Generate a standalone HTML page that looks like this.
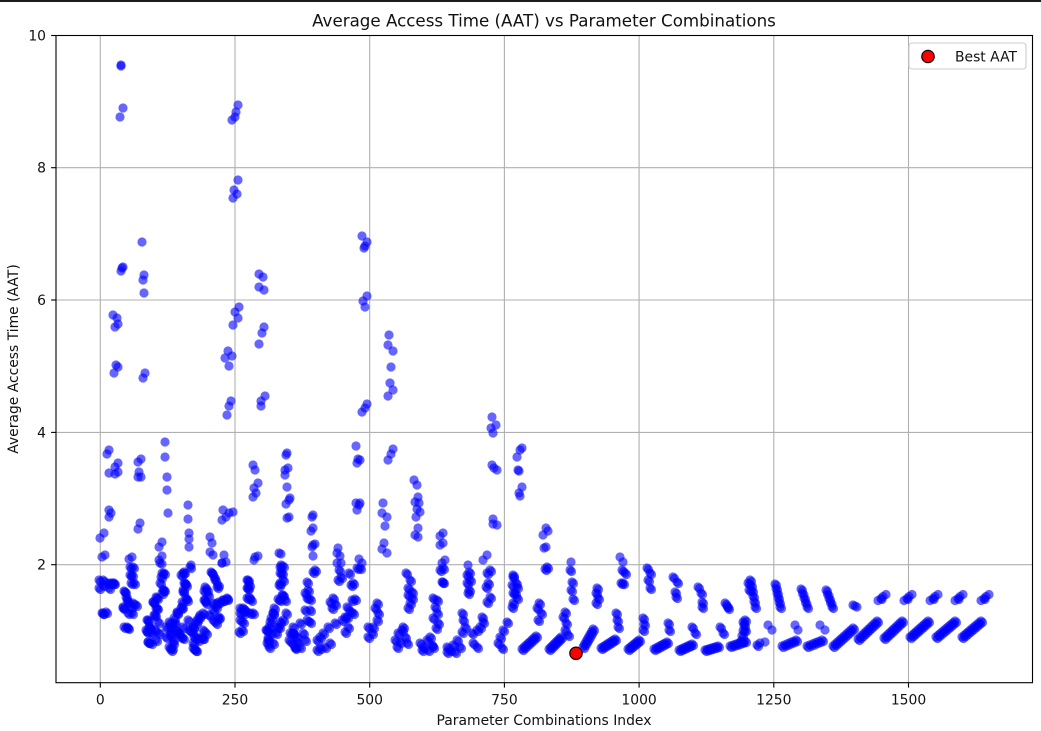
<!DOCTYPE html>
<html><head><meta charset="utf-8"><style>
html,body{margin:0;padding:0;background:#fff;}
svg{display:block;font-family:"DejaVu Sans","Liberation Sans",sans-serif;}
</style></head><body>
<svg id="c" width="1041" height="731" viewBox="0 0 1041 731" xmlns="http://www.w3.org/2000/svg">
<rect x="0" y="0" width="1041" height="731" fill="#fff"/>
<rect x="0" y="0" width="1041" height="2" fill="#1c1c1c"/>
<g stroke="#b0b0b0" stroke-width="1.1">
<line x1="100.3" y1="35.5" x2="100.3" y2="682.7"/>
<line x1="235" y1="35.5" x2="235" y2="682.7"/>
<line x1="369.7" y1="35.5" x2="369.7" y2="682.7"/>
<line x1="504.4" y1="35.5" x2="504.4" y2="682.7"/>
<line x1="639.1" y1="35.5" x2="639.1" y2="682.7"/>
<line x1="773.8" y1="35.5" x2="773.8" y2="682.7"/>
<line x1="908.5" y1="35.5" x2="908.5" y2="682.7"/>
<line x1="56" y1="564.7" x2="1032.5" y2="564.7"/>
<line x1="56" y1="432.4" x2="1032.5" y2="432.4"/>
<line x1="56" y1="300" x2="1032.5" y2="300"/>
<line x1="56" y1="167.7" x2="1032.5" y2="167.7"/>
</g>
<g id="pts" fill="#0000ff" fill-opacity="0.6"></g>
<circle cx="576" cy="653.3" r="6.2" fill="#ff0000" stroke="#000" stroke-width="1.2"/>
<rect x="56" y="35.5" width="976.5" height="647.2" fill="none" stroke="#000" stroke-width="1.1"/>
<g stroke="#000" stroke-width="1.1">
<line x1="100.3" y1="682.7" x2="100.3" y2="687.6"/>
<line x1="235" y1="682.7" x2="235" y2="687.6"/>
<line x1="369.7" y1="682.7" x2="369.7" y2="687.6"/>
<line x1="504.4" y1="682.7" x2="504.4" y2="687.6"/>
<line x1="639.1" y1="682.7" x2="639.1" y2="687.6"/>
<line x1="773.8" y1="682.7" x2="773.8" y2="687.6"/>
<line x1="908.5" y1="682.7" x2="908.5" y2="687.6"/>
<line x1="51.1" y1="564.7" x2="56" y2="564.7"/>
<line x1="51.1" y1="432.4" x2="56" y2="432.4"/>
<line x1="51.1" y1="300" x2="56" y2="300"/>
<line x1="51.1" y1="167.7" x2="56" y2="167.7"/>
<line x1="51.1" y1="35.5" x2="56" y2="35.5"/>
</g>
<g font-size="13.9" fill="#111" text-anchor="middle">
<text x="100.3" y="704.5">0</text>
<text x="235" y="704.5">250</text>
<text x="369.7" y="704.5">500</text>
<text x="504.4" y="704.5">750</text>
<text x="639.1" y="704.5">1000</text>
<text x="773.8" y="704.5">1250</text>
<text x="908.5" y="704.5">1500</text>
</g>
<g font-size="13.9" fill="#111" text-anchor="end">
<text x="46" y="569.7">2</text>
<text x="46" y="437.4">4</text>
<text x="46" y="305">6</text>
<text x="46" y="172.7">8</text>
<text x="46" y="40.5">10</text>
</g>
<text x="544" y="725" font-size="13.9" fill="#111" text-anchor="middle">Parameter Combinations Index</text>
<text transform="translate(18,359) rotate(-90)" font-size="13.9" fill="#111" text-anchor="middle">Average Access Time (AAT)</text>
<text x="544" y="26.5" font-size="16.7" fill="#111" text-anchor="middle">Average Access Time (AAT) vs Parameter Combinations</text>
<rect x="909" y="43" width="117" height="26" rx="3" ry="3" fill="#fff" fill-opacity="0.8" stroke="#cccccc" stroke-width="1.1"/>
<circle cx="928" cy="56.5" r="6.2" fill="#ff0000" stroke="#000" stroke-width="1.2"/>
<text x="955" y="61.5" font-size="13.9" fill="#111">Best AAT</text>
</svg>
<script>
(function(){
var P=[
121,65,121,66,123,108,120,117,
238,105,236,112,235,117,232,120,
238,180,234,190,237,194,233,198,
142,242,123,267,121,271,122,268,
144,275,143,280,144,293,
113,315,117,318,118,324,115,327,
116,365,118,367,114,373,145,373,143,378,
259,274,263,277,259,287,264,290,
239,307,235,312,238,318,233,325,
264,327,262,333,259,344,
228,351,232,356,225,358,229,366,
231,401,229,406,227,415,
265,396,261,401,261,406,
362,236,367,242,364,248,365,246,
367,296,363,301,365,307,
389,335,388,345,393,351,391,367,390,383,393,390,388,396,
367,404,365,408,362,412,
492,417,496,425,491,428,493,433,
522,448,520,450,517,457,518,470,519,471,522,487,519,493,520,496,
109,450,107,454,118,463,115,467,109,473,115,474,118,472,
138,462,141,459,139,472,138,477,141,477,
165,442,165,457,167,477,167,490,168,513,
109,510,111,513,109,517,140,523,138,529,
188,505,188,519,189,533,189,539,189,547,
223,510,229,513,222,520,233,512,226,517,
253,465,255,470,253,497,256,493,258,483,254,488,
286,455,288,468,285,475,287,487,289,500,286,504,289,517,287,518,287,453,285,470,290,498,
104,533,100,538,105,555,102,557,
132,557,129,559,133,567,130,575,134,583,131,583,130,567,132,575,
162,542,159,547,162,556,159,560,162,564,164,573,161,577,160,583,164,590,162,593,160,563,162,573,163,590,
191,565,184,572,181,575,184,583,186,585,183,590,186,598,182,602,181,608,177,612,174,618,172,623,183,573,185,583,183,592,187,600,182,607,177,613,175,623,170,627,170,635,173,643,172,648,178,633,183,638,190,567,
210,537,212,543,210,552,213,555,224,555,222,563,226,562,
211,572,214,577,218,585,205,587,204,591,208,595,204,600,206,603,213,603,219,602,223,600,227,599,216,607,212,573,215,580,217,587,207,590,205,600,217,603,223,600,227,598,213,610,218,618,200,615,197,620,193,627,192,632,197,637,202,638,193,643,195,650,188,620,222,563,
255,557,258,556,254,560,
279,553,281,554,281,565,283,566,280,573,283,580,279,585,283,595,278,599,285,600,274,608,273,613,271,618,280,567,282,573,280,583,282,595,280,600,273,613,270,622,267,630,268,638,267,643,277,627,280,622,
248,580,249,585,247,588,249,597,251,600,243,608,240,613,244,613,253,613,243,622,239,632,247,580,248,588,247,598,240,608,245,610,250,613,240,620,242,630,
99,580,103,585,108,583,111,583,114,583,99,588,109,588,103,580,113,583,
103,613,106,612,102,613,
124,591,126,597,128,602,123,608,131,607,136,605,128,613,124,627,128,628,125,592,127,600,123,607,133,603,132,613,127,627,
156,597,153,602,156,608,154,615,147,620,149,627,146,630,151,633,148,642,151,643,156,640,159,633,158,622,157,598,153,602,157,608,155,615,148,620,150,627,147,632,155,630,148,642,
169,622,166,627,171,632,166,637,173,640,169,647,171,650,176,630,179,633,183,627,181,637,
193,627,196,622,189,630,199,617,203,613,209,615,213,620,219,617,216,623,194,637,198,640,193,648,196,650,203,638,206,633,203,630,
269,627,266,630,271,633,268,640,273,643,269,647,276,633,279,627,283,620,289,640,293,633,286,613,293,633,297,642,295,647,
356,446,360,460,357,463,358,459,
393,449,391,454,388,460,
492,465,497,470,494,468,
414,480,417,485,418,497,415,502,419,503,417,509,420,512,416,517,418,528,415,535,418,537,
356,503,359,505,357,510,360,503,
383,503,382,513,387,517,385,526,
384,543,382,549,387,553,
493,519,497,525,493,524,
312,517,313,515,313,528,311,531,313,545,312,547,315,544,313,556,313,572,315,570,
440,536,443,533,440,545,443,543,445,560,442,563,443,568,440,570,443,582,442,582,
338,548,337,553,340,556,337,563,341,563,339,570,341,577,338,580,
359,559,362,563,357,568,360,568,
349,573,353,583,351,585,
487,555,483,560,490,570,487,573,488,583,486,587,490,597,487,602,
468,565,469,572,467,575,470,580,467,583,469,590,468,593,
406,573,410,580,408,588,412,592,408,595,412,598,410,603,408,608,
513,575,512,585,517,587,513,593,517,598,512,607,
307,582,305,593,308,590,307,598,310,599,305,610,310,610,307,620,310,622,
333,598,330,602,335,604,332,608,352,600,355,599,347,607,350,611,353,613,345,617,348,627,345,632,
377,603,375,608,378,613,377,620,373,627,368,627,372,633,368,637,
433,598,437,600,435,607,437,613,433,618,438,623,436,628,
462,613,463,620,465,627,462,632,472,633,477,630,482,617,483,622,480,627,473,643,477,647,
507,622,503,630,500,637,498,643,502,648,
293,627,300,623,290,633,297,637,303,633,292,643,295,648,300,647,305,640,
323,633,320,637,317,640,320,648,325,647,330,643,328,627,335,623,342,620,347,617,317,650,
395,640,398,633,402,630,403,627,397,647,405,637,407,643,400,642,
420,643,423,647,422,650,427,640,430,637,432,645,428,650,433,647,
447,647,450,650,453,645,457,640,460,647,455,652,447,652,
546,528,543,535,546,547,544,548,547,567,545,569,548,531,
571,562,570,570,572,582,571,590,573,599,
620,557,623,562,622,570,625,573,623,583,621,583,
647,568,650,573,648,580,650,588,
673,577,677,582,675,592,676,597,
698,587,701,593,702,602,702,607,
725,603,728,608,727,606,
597,588,596,593,598,598,596,603,
513,577,515,593,513,603,516,583,
539,603,537,608,541,613,538,620,
565,612,563,617,566,623,565,630,568,635,
616,613,617,620,618,627,
643,618,643,630,644,624,
668,623,669,630,692,627,695,633,720,627,723,633,
743,622,745,630,748,583,749,590,
760,643,765,642,757,645,768,625,772,630,
795,625,798,630,820,625,825,630,
853,605,857,607,855,606
];
var S=[
[522,649,536,636,8],[549,649,561,637,8],[583,647,593,629,8],[601,648,615,639,8],
[628,649,639,640,7],[654,649,667,642,7],[679,650,692,644,7],[705,650,718,646,7],[730,646,745,641,7],
[745,620,741,641,5],
[782,646,796,640,6],[807,646,822,640,6],[833,646,853,628,10],[858,639,877,621,10],
[884,638,902,621,10],[910,637,928,621,10],[936,637,955,621,10],[962,637,981,621,10],
[750,580,755,607,6],[775,584,780,607,6],[801,589,807,607,5],[826,590,832,607,5]
];
var B=[[882,597.5],[908,597.5],[934,597.5],[959,597.5],[985,597.5]];
var g=document.getElementById('pts'),ns='http://www.w3.org/2000/svg';
function c(x,y){var e=document.createElementNS(ns,'circle');e.setAttribute('cx',x);e.setAttribute('cy',y);e.setAttribute('r',4.6);g.appendChild(e);}
for(var i=0;i<P.length;i+=2){var x=P[i],y=P[i+1];c(x,y);if(y>565&&x<760)c(x+1.5,y+1.5);}
S.forEach(function(s){for(var k=0;k<s[4];k++){var t=s[4]==1?0:k/(s[4]-1);var x=s[0]+(s[2]-s[0])*t,y=s[1]+(s[3]-s[1])*t;c(x,y);c(x+1.5,y+1.5);}});
B.forEach(function(b){c(b[0]-4,b[1]+3);c(b[0]-1,b[1]+1);c(b[0]+1,b[1]-1);c(b[0]+4,b[1]-3);c(b[0],b[1]+2);});
})();
</script>
</body></html>
